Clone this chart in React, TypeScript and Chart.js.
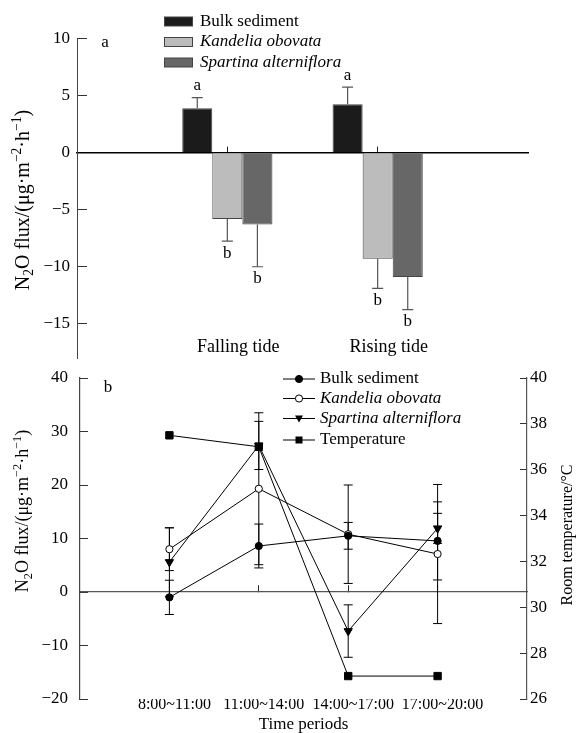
import React, { useEffect, useRef } from 'react';
import { Chart, registerables } from 'chart.js';

Chart.register(...registerables);

const FONT = "'Liberation Serif', 'Times New Roman', serif";

// ---------- Panel a (bar chart) ----------
const tideCategories = ['', 'Falling tide', 'Rising tide', ''];
const barSeriesNames = ['Bulk sediment', 'Kandelia obovata', 'Spartina alterniflora'];
const bulkBar = [null, 3.9, 4.25, null];
const kandeliaBar = [null, -5.8, -9.3, null];
const spartinaBar = [null, -6.3, -10.9, null];
const bulkBarErr = [0, 0.93, 1.5, 0];
const kandeliaBarErr = [0, 1.95, 2.6, 0];
const spartinaBarErr = [0, 3.7, 2.85, 0];
const bulkBarLetters = ['', 'a', 'a', ''];
const kandeliaBarLetters = ['', 'b', 'b', ''];
const spartinaBarLetters = ['', 'b', 'b', ''];
const topTickValues = [-15, -10, -5, 0, 5, 10];
const barColors = ['#1b1b1b', '#bcbcbc', '#676767'];

// ---------- Panel b (line chart) ----------
const periods = ['8:00~11:00', '11:00~14:00', '14:00~17:00', '17:00~20:00'];
const periodPos = [1, 2, 3, 4];
const lineSeriesNames = ['Bulk sediment', 'Kandelia obovata', 'Spartina alterniflora', 'Temperature'];
const bulkFlux = [-1.0, 8.6, 10.5, 9.55];
const bulkFluxErr = [3.2, 4.1, 2.5, 7.3];
const kandeliaFlux = [8.0, 19.3, 10.8, 7.1];
const kandeliaFluxErr = [4.0, 14.2, 9.2, 13.0];
const spartinaFlux = [5.6, 27.4, -7.3, 11.9];
const spartinaFluxErr = [6.4, 4.5, 4.9, 2.8];
const temperature = [37.5, 37.0, 27.0, 27.0];

type Seg = { t: string; k?: 'sub' | 'sup' };
const fluxTitle: Seg[] = [
  { t: 'N' }, { t: '2', k: 'sub' }, { t: 'O flux/(μg·m' }, { t: '−2', k: 'sup' },
  { t: '·h' }, { t: '−1', k: 'sup' }, { t: ')' },
];

const fmt = (v: number) => (v < 0 ? '\u2212' + Math.abs(v) : String(v));

function drawRich(ctx: CanvasRenderingContext2D, segs: Seg[], cx: number, cy: number, size: number, rot: number) {
  ctx.save();
  ctx.translate(cx, cy);
  ctx.rotate(rot);
  const small = size * 0.68;
  const fontOf = (k?: string) => `${k ? small : size}px ${FONT}`;
  const widths = segs.map((s) => {
    ctx.font = fontOf(s.k);
    return ctx.measureText(s.t).width;
  });
  const total = widths.reduce((a, b) => a + b, 0);
  let x = -total / 2;
  ctx.textAlign = 'left';
  ctx.textBaseline = 'alphabetic';
  ctx.fillStyle = '#000';
  const base = size * 0.35;
  segs.forEach((s, i) => {
    ctx.font = fontOf(s.k);
    const dy = s.k === 'sub' ? size * 0.22 : s.k === 'sup' ? -size * 0.42 : 0;
    ctx.fillText(s.t, x, base + dy);
    x += widths[i];
  });
  ctx.restore();
}

function drawMarker(ctx: CanvasRenderingContext2D, kind: number, x: number, y: number) {
  ctx.save();
  ctx.fillStyle = '#000';
  ctx.strokeStyle = '#000';
  ctx.lineWidth = 1;
  ctx.beginPath();
  if (kind === 0 || kind === 1) {
    ctx.arc(x, y, 3.6, 0, Math.PI * 2);
    ctx.fillStyle = kind === 0 ? '#000' : '#fff';
    ctx.fill();
    ctx.stroke();
  } else if (kind === 2) {
    ctx.moveTo(x - 4, y - 3);
    ctx.lineTo(x + 4, y - 3);
    ctx.lineTo(x, y + 4);
    ctx.closePath();
    ctx.fill();
  } else {
    ctx.rect(x - 3.5, y - 3.5, 7, 7);
    ctx.fill();
  }
  ctx.restore();
}

const noPad = (s: any) => {
  s.paddingTop = 0;
  s.paddingBottom = 0;
};

const topPlugin = {
  id: 'topExtras',
  afterDatasetsDraw(chart: any) {
    const ctx: CanvasRenderingContext2D = chart.ctx;
    const ys = chart.scales.y;
    chart.data.datasets.forEach((ds: any, di: number) => {
      const meta = chart.getDatasetMeta(di);
      meta.data.forEach((el: any, i: number) => {
        const v = ds.data[i];
        if (v == null) return;
        const s = v >= 0 ? 1 : -1;
        const y0 = ys.getPixelForValue(v);
        const y1 = ys.getPixelForValue(v + s * ds.err[i]);
        ctx.save();
        ctx.strokeStyle = '#555';
        ctx.lineWidth = 1.2;
        ctx.beginPath();
        ctx.moveTo(el.x, y0);
        ctx.lineTo(el.x, y1);
        ctx.moveTo(el.x - 5.5, y1);
        ctx.lineTo(el.x + 5.5, y1);
        ctx.stroke();
        ctx.fillStyle = '#000';
        ctx.font = `17px ${FONT}`;
        ctx.textAlign = 'center';
        ctx.textBaseline = 'middle';
        ctx.fillText(ds.letters[i], el.x, y1 - s * 12);
        ctx.restore();
      });
    });
  },
  afterDraw(chart: any) {
    const ctx: CanvasRenderingContext2D = chart.ctx;
    const xs = chart.scales.x;
    ctx.save();
    ctx.fillStyle = '#000';
    ctx.textBaseline = 'middle';
    ctx.font = `18px ${FONT}`;
    ctx.textAlign = 'center';
    tideCategories.forEach((c, i) => {
      if (!c) return;
      ctx.fillText(c, xs.getPixelForValue(i) + 11, 347);
    });
    ctx.font = `17px ${FONT}`;
    ctx.fillText('a', 105, 43);
    const rows = [21.5, 42, 62.5];
    chart.data.datasets.forEach((ds: any, i: number) => {
      ctx.fillStyle = ds.backgroundColor;
      ctx.fillRect(164, rows[i] - 4.5, 28, 9);
      ctx.strokeStyle = '#444';
      ctx.lineWidth = 1;
      ctx.strokeRect(164.5, rows[i] - 4.5, 28, 9);
      ctx.fillStyle = '#000';
      ctx.textAlign = 'left';
      ctx.font = `${i === 0 ? '' : 'italic '}17px ${FONT}`;
      ctx.fillText(ds.label, 200, rows[i]);
    });
    ctx.restore();
    drawRich(ctx, fluxTitle, 22, 200, 20, -Math.PI / 2);
  },
};

const bottomPlugin = {
  id: 'bottomExtras',
  beforeDatasetsDraw(chart: any) {
    const ctx: CanvasRenderingContext2D = chart.ctx;
    chart.data.datasets.forEach((ds: any, di: number) => {
      if (!ds.err) return;
      const ys = chart.scales[ds.yAxisID];
      const meta = chart.getDatasetMeta(di);
      meta.data.forEach((el: any, i: number) => {
        const v = ds.data[i].y;
        const yt = ys.getPixelForValue(v + ds.err[i]);
        const yb = ys.getPixelForValue(v - ds.err[i]);
        ctx.save();
        ctx.strokeStyle = '#000';
        ctx.lineWidth = 1;
        ctx.beginPath();
        ctx.moveTo(el.x, yt);
        ctx.lineTo(el.x, yb);
        ctx.moveTo(el.x - 4.5, yt);
        ctx.lineTo(el.x + 4.5, yt);
        ctx.moveTo(el.x - 4.5, yb);
        ctx.lineTo(el.x + 4.5, yb);
        ctx.stroke();
        ctx.restore();
      });
    });
  },
  afterDraw(chart: any) {
    const ctx: CanvasRenderingContext2D = chart.ctx;
    ctx.save();
    ctx.fillStyle = '#000';
    ctx.textBaseline = 'middle';
    ctx.textAlign = 'center';
    ctx.font = `17px ${FONT}`;
    ctx.fillText('b', 108, 23);
    const rows = [14, 33.5, 53.5, 75];
    lineSeriesNames.forEach((name, i) => {
      ctx.strokeStyle = '#000';
      ctx.lineWidth = 1;
      ctx.beginPath();
      ctx.moveTo(283, rows[i]);
      ctx.lineTo(315, rows[i]);
      ctx.stroke();
      drawMarker(ctx, i, 299, rows[i]);
      ctx.fillStyle = '#000';
      ctx.textAlign = 'left';
      ctx.font = `${i === 1 || i === 2 ? 'italic ' : ''}17px ${FONT}`;
      ctx.fillText(name, 320, rows[i]);
    });
    ctx.restore();
    drawRich(ctx, fluxTitle, 22, 146, 18, -Math.PI / 2);
    drawRich(ctx, [{ t: 'Room temperature/°C' }], 566, 170, 16, -Math.PI / 2);
  },
};

export default function App() {
  const topRef = useRef<HTMLCanvasElement>(null);
  const botRef = useRef<HTMLCanvasElement>(null);

  useEffect(() => {
    const tickFont = { family: FONT, size: 17 };
    const barData = [bulkBar, kandeliaBar, spartinaBar];
    const barErr = [bulkBarErr, kandeliaBarErr, spartinaBarErr];
    const barLetters = [bulkBarLetters, kandeliaBarLetters, spartinaBarLetters];

    const top = new Chart(topRef.current as HTMLCanvasElement, {
      type: 'bar',
      data: {
        labels: tideCategories,
        datasets: barSeriesNames.map((name, i) => ({
          label: name,
          data: barData[i],
          backgroundColor: barColors[i],
          borderColor: '#444',
          borderWidth: 1,
          categoryPercentage: 0.6,
          barPercentage: 1.0,
          err: barErr[i],
          letters: barLetters[i],
        })) as any,
      },
      options: {
        animation: false,
        responsive: false,
        maintainAspectRatio: false,
        layout: { padding: { left: 0, right: 48, top: 38.7, bottom: 7 } },
        plugins: { legend: { display: false }, tooltip: { enabled: false } },
        scales: {
          x: {
            type: 'category',
            offset: false,
            position: { y: 0 } as any,
            ticks: { display: false },
            grid: {
              offset: false,
              drawOnChartArea: false,
              tickLength: -7,
              lineWidth: 1,
              color: (c: any) => (c.index === 1 || c.index === 2 ? '#222' : 'rgba(0,0,0,0)'),
            },
            border: { color: '#000', width: 1.6 },
          },
          y: {
            min: -18,
            max: 10,
            afterBuildTicks: (s: any) => {
              s.ticks = topTickValues.map((v) => ({ value: v }));
            },
            afterFit: (s: any) => {
              s.width = 77;
              noPad(s);
            },
            ticks: { padding: 17, font: tickFont, color: '#000', callback: (v: any) => fmt(Number(v)) },
            grid: { drawOnChartArea: false, tickLength: -10, color: '#333' },
            border: { color: '#444', width: 1 },
          },
        },
      },
      plugins: [topPlugin],
    });

    const fluxData = [bulkFlux, kandeliaFlux, spartinaFlux, temperature];
    const fluxErr = [bulkFluxErr, kandeliaFluxErr, spartinaFluxErr, null];
    const pStyles = ['circle', 'circle', 'triangle', 'rect'];
    const pRadius = [3.6, 3.6, 4.8, 5.2];
    const pFill = ['#000', '#fff', '#000', '#000'];

    const bot = new Chart(botRef.current as HTMLCanvasElement, {
      type: 'line',
      data: {
        datasets: lineSeriesNames.map((name, i) => ({
          label: name,
          data: periodPos.map((p, j) => ({ x: p, y: fluxData[i][j] })),
          xAxisID: 'x',
          yAxisID: i === 3 ? 'y2' : 'y',
          borderColor: '#000',
          borderWidth: 1,
          pointStyle: pStyles[i],
          pointRadius: pRadius[i],
          pointRotation: i === 2 ? 180 : 0,
          pointBackgroundColor: pFill[i],
          pointBorderColor: '#000',
          pointBorderWidth: 1,
          tension: 0,
          fill: false,
          err: fluxErr[i],
        })) as any,
      },
      options: {
        animation: false,
        responsive: false,
        maintainAspectRatio: false,
        layout: { padding: { left: 0, right: 0, top: 13, bottom: 0 } },
        plugins: { legend: { display: false }, tooltip: { enabled: false } },
        scales: {
          x: {
            type: 'linear',
            min: 0,
            max: 5,
            position: { y: 0 } as any,
            afterBuildTicks: (s: any) => {
              s.ticks = periodPos.map((v) => ({ value: v }));
            },
            ticks: { display: false },
            grid: { drawOnChartArea: false, tickLength: -7, color: '#222' },
            border: { color: '#555', width: 1.3 },
          },
          x2: {
            type: 'linear',
            min: 0,
            max: 5,
            position: 'bottom',
            afterBuildTicks: (s: any) => {
              s.ticks = periodPos.map((v) => ({ value: v }));
            },
            afterFit: (s: any) => {
              s.height = 34;
              s.paddingLeft = 0;
              s.paddingRight = 0;
            },
            ticks: {
              padding: -2.5,
              labelOffset: 5,
              autoSkip: false,
              maxRotation: 0,
              minRotation: 0,
              font: { family: FONT, size: 16, lineHeight: 1 },
              color: '#000',
              callback: (v: any) => periods[Number(v) - 1],
            },
            grid: { display: false, drawTicks: false },
            border: { display: false },
            title: {
              display: true,
              text: 'Time periods',
              font: { family: FONT, size: 17, lineHeight: 1 },
              color: '#000',
              padding: { top: 0, bottom: 0 },
            },
          },
          y: {
            position: 'left',
            min: -20,
            max: 40,
            afterFit: (s: any) => {
              s.width = 80;
              noPad(s);
            },
            ticks: { stepSize: 10, padding: 20, font: tickFont, color: '#000', callback: (v: any) => fmt(Number(v)) },
            grid: { drawOnChartArea: false, tickLength: -8, color: '#333' },
            border: { color: '#444', width: 1.2 },
          },
          y2: {
            position: 'right',
            min: 26,
            max: 40,
            afterFit: (s: any) => {
              s.width = 49;
              noPad(s);
            },
            ticks: { stepSize: 2, padding: 10, font: tickFont, color: '#000' },
            grid: { drawOnChartArea: false, tickLength: -7, color: '#333' },
            border: { color: '#555', width: 1.2 },
          },
        },
      },
      plugins: [bottomPlugin],
    });

    return () => {
      top.destroy();
      bot.destroy();
    };
  }, []);

  return (
    <div style={{ position: 'absolute', left: 0, top: 0, width: 576, height: 733, background: '#fff' }}>
      <canvas ref={topRef} width={576} height={365} style={{ display: 'block', width: 576, height: 365 }} />
      <canvas ref={botRef} width={576} height={368} style={{ display: 'block', width: 576, height: 368 }} />
    </div>
  );
}
